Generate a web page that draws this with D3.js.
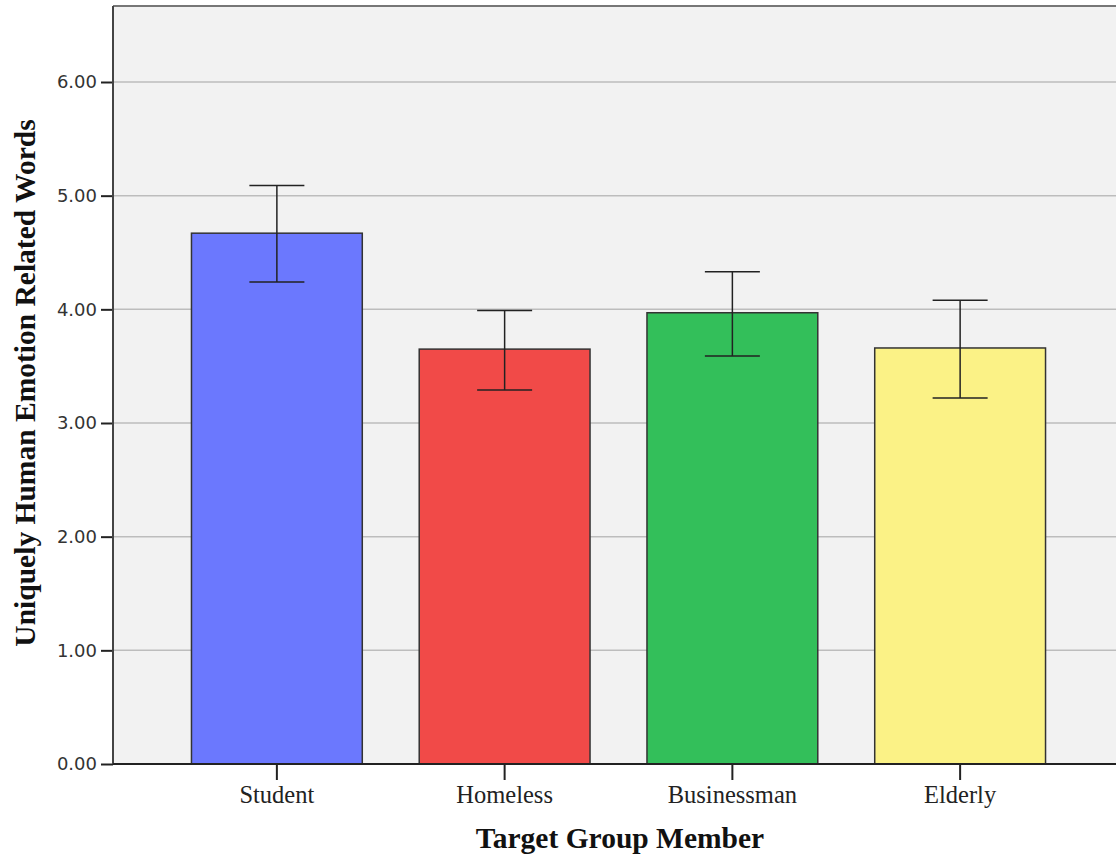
<html>
<!-- bar chart with error bars, SPSS style -->
<script src="https://cdn.jsdelivr.net/npm/d3@7/dist/d3.min.js"></script>
<style>
  body {margin: 0; background: white;}
  .ytick text {font-family: "DejaVu Sans", sans-serif; font-size: 18px; fill: #333;}
  .xtick text {font-family: "Liberation Serif", serif; font-size: 24.5px; fill: #222;}
  .axtitle {font-family: "Liberation Serif", serif; font-weight: bold; font-size: 29.5px; fill: #111;}
</style>
<body>
<svg width="1116" height="857"></svg>
<script>
// values
var groups = ['Student', 'Homeless', 'Businessman', 'Elderly'];
var means = [4.67, 3.65, 3.97, 3.66];
var ciLow = [4.24, 3.29, 3.59, 3.22];
var ciHigh = [5.09, 3.99, 4.33, 4.08];
var colors = ['#6b78fe', '#f14a48', '#33bf5a', '#fbf286'];
var yTicks = [0, 1, 2, 3, 4, 5, 6];

var svg = d3.select('svg');

// plot area
var pLeft = 113, pTop = 6, pRight = 1130, pBottom = 764;

var ys = d3.scaleLinear().domain([0, 6]).range([pBottom, 82]);
var xs = d3.scaleBand().domain(groups).range([163, 1074]).paddingInner(0.25).paddingOuter(0.125);

// background
svg.append('rect')
  .attr('x', pLeft).attr('y', pTop)
  .attr('width', pRight - pLeft).attr('height', pBottom - pTop)
  .attr('fill', '#f2f2f2');

// grid lines
svg.append('g')
  .selectAll('line')
  .data(yTicks.slice(1))
  .enter()
  .append('line')
    .attr('x1', pLeft).attr('x2', pRight)
    .attr('y1', function(d) {return ys(d);})
    .attr('y2', function(d) {return ys(d);})
    .attr('stroke', '#bdbdbd')
    .attr('stroke-width', 1.5);

// bars
svg.append('g')
  .selectAll('rect')
  .data(groups)
  .enter()
  .append('rect')
    .attr('x', function(d) {return xs(d);})
    .attr('y', function(d, i) {return ys(means[i]);})
    .attr('width', xs.bandwidth())
    .attr('height', function(d, i) {return pBottom - ys(means[i]);})
    .attr('fill', function(d, i) {return colors[i];})
    .attr('stroke', '#333')
    .attr('stroke-width', 1.5);

// error bars
var capW = 55;
var eb = svg.append('g').attr('stroke', '#222').attr('stroke-width', 1.5);
groups.forEach(function(g, i) {
  var cx = xs(g) + xs.bandwidth() / 2;
  eb.append('line').attr('x1', cx).attr('x2', cx).attr('y1', ys(ciLow[i])).attr('y2', ys(ciHigh[i]));
  eb.append('line').attr('x1', cx - capW / 2).attr('x2', cx + capW / 2).attr('y1', ys(ciLow[i])).attr('y2', ys(ciLow[i]));
  eb.append('line').attr('x1', cx - capW / 2).attr('x2', cx + capW / 2).attr('y1', ys(ciHigh[i])).attr('y2', ys(ciHigh[i]));
});

// frame: top and left
svg.append('line').attr('x1', pLeft).attr('x2', pRight).attr('y1', pTop).attr('y2', pTop)
  .attr('stroke', '#777').attr('stroke-width', 2);

// y axis
var yAxis = d3.axisLeft(ys).tickValues(yTicks).tickFormat(d3.format('.2f')).tickSize(12).tickPadding(4);
svg.append('g')
  .attr('class', 'ytick')
  .attr('transform', 'translate(' + pLeft + ',0)')
  .call(yAxis)
  .call(function(g) {
    g.select('.domain').remove();
    g.selectAll('.tick line').attr('stroke', '#222').attr('stroke-width', 2);
    g.selectAll('.tick text').attr('fill', '#333');
  });
svg.append('line').attr('x1', pLeft).attr('x2', pLeft).attr('y1', pTop).attr('y2', pBottom)
  .attr('stroke', '#444').attr('stroke-width', 2);

// x axis
var xAxis = d3.axisBottom(xs).tickSize(16).tickPadding(6);
svg.append('g')
  .attr('class', 'xtick')
  .attr('transform', 'translate(0,' + pBottom + ')')
  .call(xAxis)
  .call(function(g) {
    g.select('.domain').remove();
    g.selectAll('.tick line').attr('stroke', '#222').attr('stroke-width', 2);
    g.selectAll('.tick text').attr('fill', '#222');
  });
svg.append('line').attr('x1', pLeft).attr('x2', pRight).attr('y1', pBottom).attr('y2', pBottom)
  .attr('stroke', '#222').attr('stroke-width', 2);

// axis titles
svg.append('text')
  .attr('class', 'axtitle')
  .attr('x', 620).attr('y', 848)
  .attr('text-anchor', 'middle')
  .text('Target Group Member');

svg.append('text')
  .attr('class', 'axtitle')
  .attr('transform', 'translate(35,383) rotate(-90)')
  .attr('text-anchor', 'middle')
  .text('Uniquely Human Emotion Related Words');
</script>
</body>
</html>
